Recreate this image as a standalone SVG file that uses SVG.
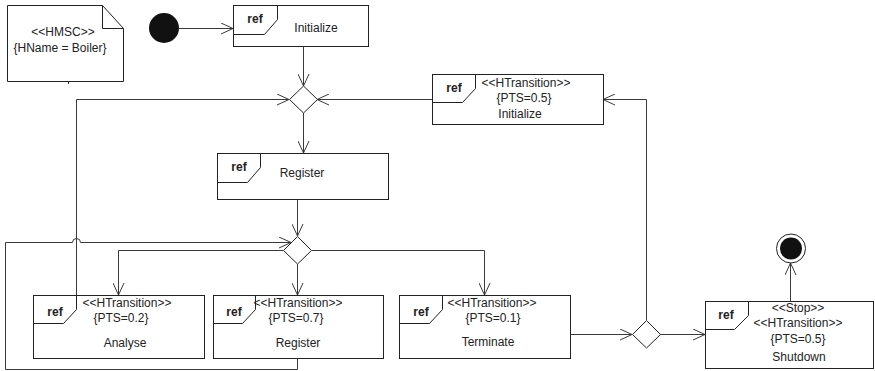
<svg xmlns="http://www.w3.org/2000/svg" width="875" height="371" viewBox="0 0 875 371">
  <style>
    .box { fill: #ffffff; stroke: #222222; stroke-width: 1; }
    .tag { fill: none; stroke: #222222; stroke-width: 1; }
    .wire { fill: none; stroke: #3a3a3a; stroke-width: 1; }
    .arrow { marker-end: url(#open); }
    .gate { fill: #ffffff; stroke: #222222; stroke-width: 1; }
    text { font-family: "Liberation Sans", Arial, sans-serif; font-size: 12px; fill: #222222; text-anchor: middle; }
    .ref { font-weight: bold; }
  </style>
  <defs>
    <marker id="open" viewBox="0 0 12 12" refX="12" refY="6" markerWidth="12" markerHeight="12" markerUnits="userSpaceOnUse" orient="auto">
      <path d="M0,0.5 L12,6 L0,11.5" fill="none" stroke="#3a3a3a" stroke-width="1"/>
    </marker>
  </defs>

  <!-- comment note -->
  <g id="note">
    <path class="box" d="M7.5,5.5 H102.5 L123.5,28.5 V81.5 H7.5 Z"/>
    <path class="tag" d="M102.5,5.5 V28.5 H123.5"/>
    <path class="tag" d="M68.5,81.5 V84"/>
    <text x="63" y="36">&lt;&lt;HMSC&gt;&gt;</text>
    <text x="60" y="52">{HName = Boiler}</text>
  </g>

  <!-- connectors -->
  <g id="connectors">
    <path class="wire arrow" d="M179,28.5 H233"/>
    <path class="wire arrow" d="M303.5,46 V86"/>
    <path class="wire arrow" d="M432,99.5 H317"/>
    <path class="wire arrow" d="M76.5,295 V99.5 H289"/>
    <path class="wire arrow" d="M303.5,113 V153"/>
    <path class="wire arrow" d="M297.5,199 V236"/>
    <path class="wire arrow" d="M283,250.5 H118.5 V295"/>
    <path class="wire arrow" d="M297.5,264 V295"/>
    <path class="wire arrow" d="M312,250.5 H484.5 V295"/>
    <path class="wire arrow" d="M297.5,358 V369.5 H5.5 V242.5 H72.5 A4,4 0 0 1 80.5,242.5 H291"/>
    <path class="wire arrow" d="M570,334.5 H632"/>
    <path class="wire arrow" d="M646.5,320 V99.5 H603"/>
    <path class="wire arrow" d="M660,334.5 H705"/>
    <path class="wire arrow" d="M790.5,301 V263"/>
  </g>

  <!-- start and end -->
  <g id="start">
    <circle cx="164" cy="28" r="15" fill="#111111"/>
  </g>
  <g id="end">
    <circle cx="791" cy="248.5" r="14.5" fill="#ffffff" stroke="#222222" stroke-width="1"/>
    <circle cx="791" cy="248.5" r="11" fill="#111111"/>
  </g>

  <!-- decision / merge points -->
  <g id="merge-top">
    <path class="gate" d="M303.5,86 L317.5,99.5 L303.5,113 L289.5,99.5 Z"/>
  </g>
  <g id="merge-mid">
    <path class="gate" d="M297.5,236.5 L311.5,250.5 L297.5,264 L283.5,250.5 Z"/>
  </g>
  <g id="merge-right">
    <path class="gate" d="M646.5,320.5 L660.5,334.5 L646.5,348 L632.5,334.5 Z"/>
  </g>

  <!-- interaction references -->
  <g id="ref-initialize">
    <rect class="box" x="233.5" y="5.5" width="135" height="41"/>
    <path class="tag" d="M233.5,5.5 H277.5 V19.5 L264.5,34.5 H233.5"/>
    <text class="ref" x="255" y="23">ref</text>
    <text x="316" y="32">Initialize</text>
  </g>

  <g id="ref-register">
    <rect class="box" x="217.5" y="153.5" width="171" height="46"/>
    <path class="tag" d="M217.5,153.5 H260.5 V167.5 L247.5,182.5 H217.5"/>
    <text class="ref" x="239" y="171">ref</text>
    <text x="302" y="177">Register</text>
  </g>

  <g id="ref-reinitialize">
    <rect class="box" x="432.5" y="74.5" width="171" height="50"/>
    <path class="tag" d="M432.5,74.5 H475.5 V88.5 L462.5,102.5 H432.5"/>
    <text class="ref" x="454" y="92">ref</text>
    <text x="526" y="87">&lt;&lt;HTransition&gt;&gt;</text>
    <text x="524" y="102">{PTS=0.5}</text>
    <text x="520" y="118">Initialize</text>
  </g>

  <g id="ref-analyse">
    <rect class="box" x="33.5" y="295.5" width="171" height="63"/>
    <path class="tag" d="M33.5,295.5 H76.5 V309.5 L63.5,323.5 H33.5"/>
    <text class="ref" x="55" y="316">ref</text>
    <text x="127" y="307">&lt;&lt;HTransition&gt;&gt;</text>
    <text x="121" y="322">{PTS=0.2}</text>
    <text x="125" y="347">Analyse</text>
  </g>

  <g id="ref-register-again">
    <rect class="box" x="213.5" y="295.5" width="170" height="63"/>
    <path class="tag" d="M213.5,295.5 H255.5 V309.5 L242.5,323.5 H213.5"/>
    <text class="ref" x="234" y="316">ref</text>
    <text x="298" y="307">&lt;&lt;HTransition&gt;&gt;</text>
    <text x="296" y="322">{PTS=0.7}</text>
    <text x="298" y="347">Register</text>
  </g>

  <g id="ref-terminate">
    <rect class="box" x="399.5" y="295.5" width="171" height="63"/>
    <path class="tag" d="M399.5,295.5 H442.5 V309.5 L429.5,323.5 H399.5"/>
    <text class="ref" x="421" y="316">ref</text>
    <text x="492" y="307">&lt;&lt;HTransition&gt;&gt;</text>
    <text x="493" y="322">{PTS=0.1}</text>
    <text x="488" y="346">Terminate</text>
  </g>

  <g id="ref-shutdown">
    <rect class="box" x="705.5" y="301.5" width="168" height="67"/>
    <path class="tag" d="M705.5,301.5 H748.5 V315.5 L734.5,329.5 H705.5"/>
    <text class="ref" x="726" y="319">ref</text>
    <text x="798" y="312">&lt;&lt;Stop&gt;&gt;</text>
    <text x="798" y="327">&lt;&lt;HTransition&gt;&gt;</text>
    <text x="798" y="343">{PTS=0.5}</text>
    <text x="799" y="361">Shutdown</text>
  </g>
</svg>
